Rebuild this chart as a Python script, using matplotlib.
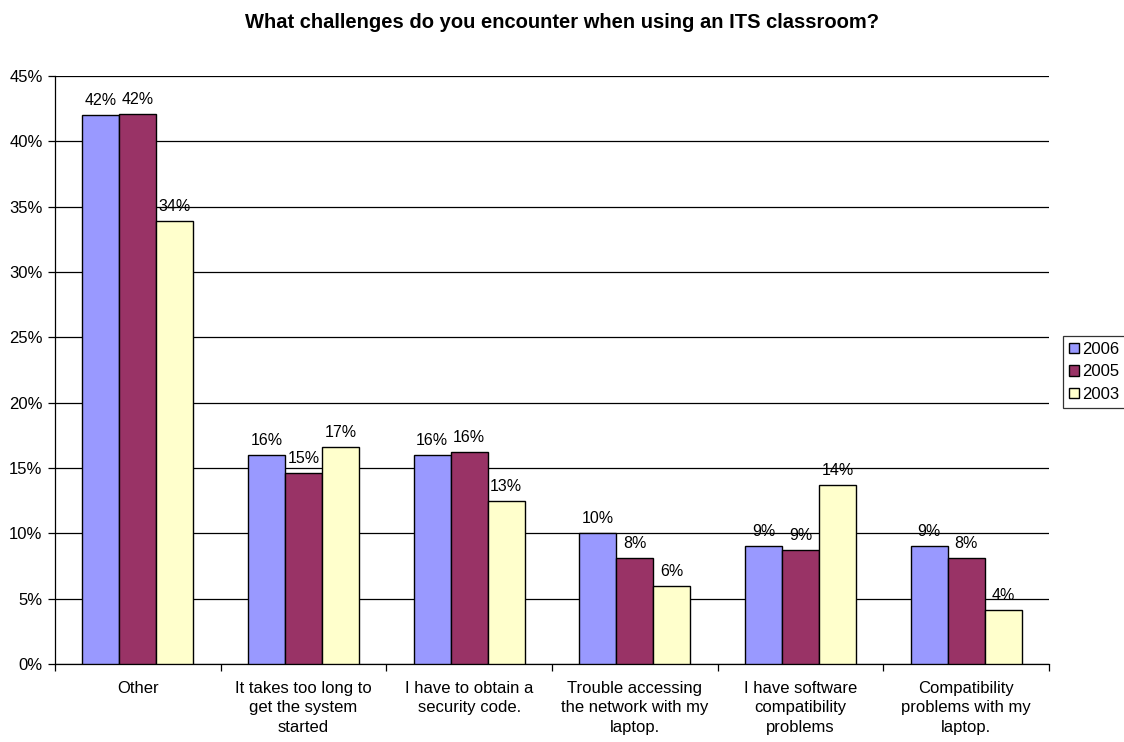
import matplotlib
matplotlib.use("Agg")
import matplotlib.pyplot as plt
import numpy as np
from matplotlib.ticker import FuncFormatter, FixedLocator

plt.rcParams['font.family'] = ['Liberation Sans', 'DejaVu Sans']

categories = ["Other", "It takes too long to\nget the system\nstarted",
              "I have to obtain a\nsecurity code.",
              "Trouble accessing\nthe network with my\nlaptop.",
              "I have software\ncompatibility\nproblems",
              "Compatibility\nproblems with my\nlaptop."]
series_names = ["2006", "2005", "2003"]
v2006 = [42.0, 16.0, 16.0, 10.0, 9.0, 9.0]
v2005 = [42.1, 14.6, 16.2, 8.1, 8.7, 8.1]
v2003 = [33.9, 16.6, 12.5, 6.0, 13.7, 4.1]
colors = ["#9999FF", "#993366", "#FFFFCC"]

fig = plt.figure(figsize=(11.24, 7.42), dpi=100)
ax = fig.add_axes([55/1124, 78/742, (1049-55)/1124, (664-76)/742])

x = np.arange(len(categories))
w = 0.224
for i, (vals, c, name) in enumerate(zip([v2006, v2005, v2003], colors, series_names)):
    pos = x + (i - 1) * w
    ax.bar(pos, vals, width=w, color=c, edgecolor="black", linewidth=1.0,
           label=name, zorder=3)
    for xp, v in zip(pos, vals):
        ax.annotate(f"{int(v + 0.5)}%", (xp, v), xytext=(0, 5), textcoords="offset points",
                    ha="center", va="bottom", fontsize=11.5, zorder=4)

ax.set_xlim(-0.5, len(categories) - 0.5)
ax.set_ylim(0, 45)
ax.set_yticks(np.arange(0, 46, 5))
ax.yaxis.set_major_formatter(FuncFormatter(lambda v, p: f"{v:.0f}%"))
ax.yaxis.grid(True, color="black", linewidth=0.9, zorder=0)
ax.set_axisbelow(True)
for s in ["top", "right"]:
    ax.spines[s].set_visible(False)
ax.spines["left"].set_linewidth(0.9)
ax.spines["bottom"].set_linewidth(0.9)

ax.xaxis.set_major_locator(FixedLocator(np.arange(-0.5, len(categories), 1.0)))
ax.set_xticklabels([])
ax.xaxis.set_minor_locator(FixedLocator(x))
ax.set_xticklabels(categories, minor=True, fontsize=12, linespacing=1.4)
ax.tick_params(axis="x", which="minor", length=0, pad=12)
ax.tick_params(axis="x", which="major", length=5, direction="out", width=0.9)
ax.tick_params(axis="y", length=5, direction="out", width=0.9, labelsize=12, pad=4)

fig.suptitle("What challenges do you encounter when using an ITS classroom?",
             fontsize=14.5, fontweight="bold", y=1 - 22/742, va="center")

leg = ax.legend(loc="center left", bbox_to_anchor=(1063/1124, 370/742),
                bbox_transform=fig.transFigure, frameon=True, fancybox=False,
                edgecolor="black", fontsize=12, handlelength=0.6, handleheight=0.6,
                handletextpad=0.2, borderpad=0.35, labelspacing=0.45, borderaxespad=0)
leg.get_frame().set_linewidth(0.9)

fig.savefig("out.png", dpi=100, facecolor="white")
